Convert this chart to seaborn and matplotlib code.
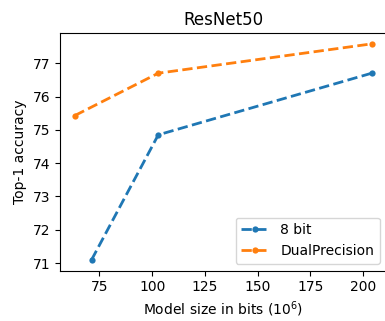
import pandas as pd
import seaborn as sns
import matplotlib.pyplot as plt

# model size in bits (10^6) and top-1 accuracy
size_8bit = [71.3, 102.9, 204.0]
acc_8bit = [71.1, 74.85, 76.7]
size_dual = [63.4, 102.9, 204.0]
acc_dual = [75.43, 76.7, 77.58]

df8 = pd.DataFrame({"size": size_8bit, "acc": acc_8bit})
dfd = pd.DataFrame({"size": size_dual, "acc": acc_dual})

fig = plt.figure(figsize=(3.85, 3.21), dpi=100)
ax = fig.add_axes([0.156, 0.157, 0.848, 0.740])

sns.lineplot(data=df8, x="size", y="acc", ax=ax, color="#1f77b4",
             marker="o", markersize=4.5, markeredgewidth=0, linestyle="--",
             linewidth=2, label="8 bit")
sns.lineplot(data=dfd, x="size", y="acc", ax=ax, color="#ff7f0e",
             marker="o", markersize=4.5, markeredgewidth=0, linestyle="--",
             linewidth=2, label="DualPrecision")

ax.set_title("ResNet50")
ax.set_xlabel("Model size in bits ($10^6$)")
ax.set_ylabel("Top-1 accuracy")
ax.set_xticks([75, 100, 125, 150, 175, 200])
ax.legend(loc="lower right")

fig.savefig("out.png", dpi=100)
